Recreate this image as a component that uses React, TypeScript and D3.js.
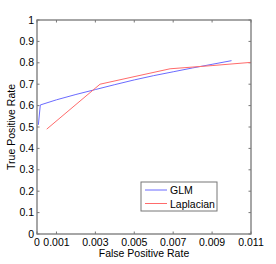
import React, { useEffect, useRef } from 'react';
import * as d3 from 'd3';

// ROC curves
const glmFpr = [0.00007, 0.00017, 0.001, 0.002, 0.003, 0.004, 0.005, 0.006, 0.007, 0.008, 0.009, 0.01];
const glmTpr = [0.51, 0.603, 0.627, 0.652, 0.675, 0.698, 0.72, 0.74, 0.758, 0.776, 0.793, 0.81];
const lapFpr = [0.0005, 0.00324, 0.00478, 0.00684, 0.009, 0.011];
const lapTpr = [0.49, 0.7, 0.731, 0.772, 0.787, 0.802];

const xTicks = [0, 0.001, 0.003, 0.005, 0.007, 0.009, 0.011];
const yTicks = [0, 0.1, 0.2, 0.3, 0.4, 0.5, 0.6, 0.7, 0.8, 0.9, 1];

const seriesNames = ['GLM', 'Laplacian'];
const seriesColors = ['#6b6bff', '#ff6b6b'];

const App: React.FC = () => {
  const svgRef = useRef<SVGSVGElement>(null);

  useEffect(() => {
    if (!svgRef.current) return;
    const width = 276;
    const height = 264;
    const m = { left: 37, top: 20, right: 25, bottom: 30 };

    const svg = d3.select(svgRef.current);
    svg.selectAll('*').remove();

    const x = d3.scaleLinear().domain([0, 0.011]).range([m.left, width - m.right]);
    const y = d3.scaleLinear().domain([0, 1]).range([height - m.bottom, m.top]);

    svg.append('rect').attr('width', width).attr('height', height).attr('fill', '#fff');

    const g = svg.append('g')
      .attr('font-family', 'Liberation Sans, Arial, sans-serif')
      .attr('font-size', 10.5)
      .attr('fill', '#000');

    const [x0, x1] = x.range();
    const [y0, y1] = y.range();
    const tickLen = 2.5;

    // ticks on all four sides, pointing in
    const ticks = g.append('g').attr('stroke', '#777').attr('stroke-width', 1);
    xTicks.forEach(t => {
      ticks.append('line').attr('x1', x(t)).attr('x2', x(t)).attr('y1', y0).attr('y2', y0 - tickLen);
      ticks.append('line').attr('x1', x(t)).attr('x2', x(t)).attr('y1', y1).attr('y2', y1 + tickLen);
    });
    yTicks.forEach(t => {
      ticks.append('line').attr('x1', x0).attr('x2', x0 + tickLen).attr('y1', y(t)).attr('y2', y(t));
      ticks.append('line').attr('x1', x1).attr('x2', x1 - tickLen).attr('y1', y(t)).attr('y2', y(t));
    });

    g.selectAll('text.xt').data(xTicks).join('text')
      .attr('x', d => x(d)).attr('y', y0 + 12)
      .attr('text-anchor', 'middle')
      .text(d => d === 0 ? '0' : String(d));

    g.selectAll('text.yt').data(yTicks).join('text')
      .attr('x', x0 - 3).attr('y', d => y(d) + 3.5)
      .attr('text-anchor', 'end')
      .text(d => String(d));

    const line = d3.line<[number, number]>().x(d => x(d[0])).y(d => y(d[1]));
    const series = [d3.zip(glmFpr, glmTpr), d3.zip(lapFpr, lapTpr)] as [number, number][][];
    series.forEach((s, i) => {
      g.append('path')
        .attr('d', line(s))
        .attr('fill', 'none')
        .attr('stroke', seriesColors[i])
        .attr('stroke-width', 1);
    });

    // frame
    g.append('rect')
      .attr('x', x0).attr('y', y1)
      .attr('width', x1 - x0).attr('height', y0 - y1)
      .attr('fill', 'none').attr('stroke', '#777').attr('stroke-width', 1.3);

    // legend
    const lg = g.append('g').attr('transform', 'translate(141,182)');
    lg.append('rect').attr('width', 76).attr('height', 29)
      .attr('fill', '#fff').attr('stroke', '#777').attr('stroke-width', 1);
    seriesNames.forEach((n, i) => {
      const yy = 8 + i * 13.5;
      lg.append('line').attr('x1', 4).attr('x2', 26).attr('y1', yy).attr('y2', yy)
        .attr('stroke', seriesColors[i]).attr('stroke-width', 1);
      lg.append('text').attr('x', 29).attr('y', yy + 4).text(n);
    });

    // axis titles
    g.append('text')
      .attr('x', (x0 + x1) / 2).attr('y', 257)
      .attr('text-anchor', 'middle')
      .text('False Positive Rate');
    g.append('text')
      .attr('transform', `translate(15,${(y0 + y1) / 2}) rotate(-90)`)
      .attr('text-anchor', 'middle')
      .text('True Positive Rate');
  }, []);

  return (
    <svg
      ref={svgRef}
      width={276}
      height={264}
      style={{ position: 'absolute', left: 0, top: 0, display: 'block' }}
    />
  );
};

export default App;
